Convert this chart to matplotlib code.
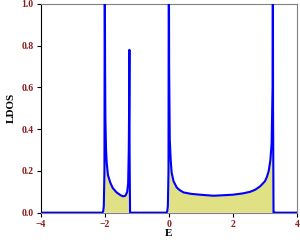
import matplotlib
matplotlib.use("Agg")
import matplotlib.pyplot as plt

# energy grid and LDOS
E = [-4.0, -2.2, -2.08, -2.05, -2.03, -2.01, -2.0, -1.99, -1.98, -1.96, -1.94,
     -1.9, -1.83, -1.75, -1.63, -1.5, -1.42, -1.35, -1.3, -1.27, -1.25, -1.24,
     -1.23, -1.225, -1.21, -1.19, -1.0, -0.2, -0.08, -0.05, -0.03, -0.01, 0.0,
     0.01, 0.03, 0.06, 0.09, 0.15, 0.25, 0.35, 0.46, 0.7, 0.98, 1.4, 2.0,
     2.3, 2.54, 2.7, 2.85, 3.0, 3.06, 3.12, 3.17, 3.21, 3.24, 3.25, 3.255,
     3.27, 3.29, 3.5, 4.0]
ldos = [0.0, 0.0, 0.0, 0.005, 0.03, 0.2, 1.3, 0.7, 0.45, 0.3, 0.24,
        0.18, 0.145, 0.118, 0.097, 0.083, 0.078, 0.082, 0.1, 0.14, 0.3, 0.5,
        0.78, 0.3, 0.0, 0.0, 0.0, 0.0, 0.0, 0.005, 0.03, 0.2, 1.4,
        0.7, 0.35, 0.25, 0.19, 0.15, 0.12, 0.107, 0.097, 0.09, 0.086, 0.081, 0.086,
        0.092, 0.1, 0.11, 0.126, 0.15, 0.17, 0.2, 0.25, 0.33, 0.6, 1.4, 0.5,
        0.0, 0.0, 0.0, 0.0]
bands = [(-2.02, -1.23), (-0.02, 3.25)]

tick_col = "#8b1a1a"
plt.rcParams["font.family"] = ["Liberation Serif", "DejaVu Serif"]

fig = plt.figure(figsize=(3.0, 2.45), dpi=100)
ax = fig.add_axes([0.1357, 0.132, 0.854, 0.852])

for lo, hi in bands:
    ax.fill_between(E, ldos, 0, where=[lo <= e <= hi for e in E],
                    color="#e0e084", linewidth=0, zorder=1)
ax.plot(E, ldos, color="#0000ff", linewidth=1.5, zorder=3)

ax.set_xlim(-4, 4)
ax.set_ylim(0, 1.0)
ax.set_xticks([-4, -2, 0, 2, 4])
ax.set_yticks([0.0, 0.2, 0.4, 0.6, 0.8, 1.0])
ax.set_yticklabels(["0.0", "0.2", "0.4", "0.6", "0.8", "1.0"])
ax.tick_params(direction="out", length=3, width=0.8, colors="black",
               labelcolor=tick_col, labelsize=7, pad=2)
for lab in ax.get_xticklabels() + ax.get_yticklabels():
    lab.set_fontweight("bold")
ax.spines["left"].set_color("black")
for s in ["top", "right", "bottom"]:
    ax.spines[s].set_color("#808080")
ax.set_xlabel("E", fontsize=8, fontweight="bold")
ax.set_ylabel("LDOS", fontsize=8, fontweight="bold")
ax.xaxis.set_label_coords(0.5, -0.1)
ax.yaxis.set_label_coords(-0.115, 0.5)
ax.xaxis.label.set_verticalalignment("center")
ax.yaxis.label.set_verticalalignment("center")

fig.savefig("out.png", dpi=100)
